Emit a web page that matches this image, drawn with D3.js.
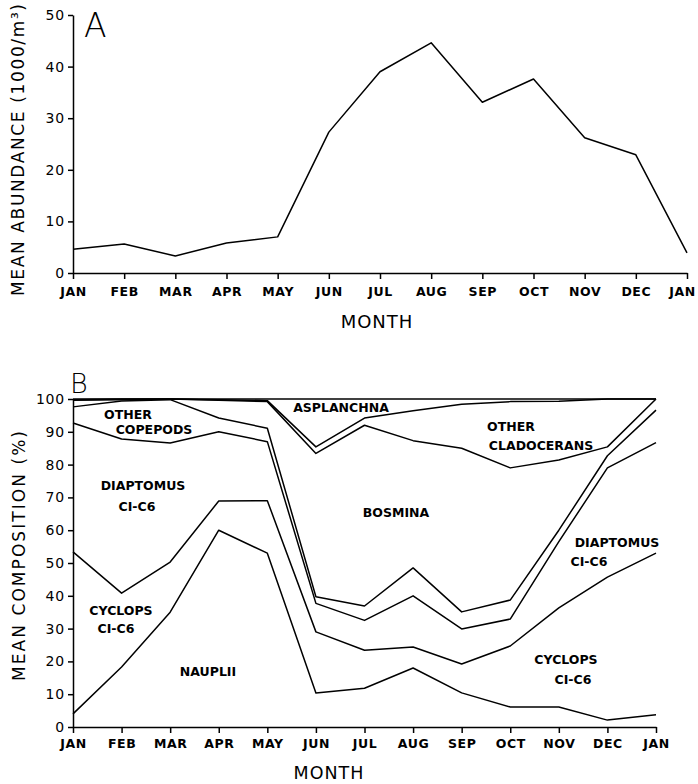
<!DOCTYPE html>
<html>
<head>
<meta charset="utf-8">
<script src="https://cdn.jsdelivr.net/npm/d3@7"></script>
<style>
  html, body { margin: 0; padding: 0; background: #fff; }
  svg { display: block; }
  text { font-family: "DejaVu Sans", sans-serif; fill: #000; }
  .axis path, .axis line { stroke: #000; stroke-width: 1.5; }
  .axis text { font-family: "DejaVu Sans", sans-serif; }
</style>
</head>
<body>
<script>
// Month labels (the year wraps round to a second January)
const months = ["JAN","FEB","MAR","APR","MAY","JUN","JUL","AUG","SEP","OCT","NOV","DEC","JAN"];

// Panel A: mean zooplankton abundance (1000 individuals per m³)
const abundance = [4.6, 5.6, 3.3, 5.8, 7.0, 27.3, 39.0, 44.6, 33.1, 37.6, 26.2, 22.9, 3.9];
const abundanceTicks = [0, 10, 20, 30, 40, 50];

// Panel B: mean composition (%) by group, stacked bottom to top
const nauplii          = [4.0, 18.3, 35.0, 60.0, 53.0, 10.4, 11.8, 18.0, 10.4, 6.1, 6.1, 2.1, 3.7];
const cyclops          = [49.4, 22.5, 15.3, 8.9, 16.0, 18.6, 11.6, 6.4, 8.8, 18.6, 30.2, 43.6, 49.3];
const diaptomus        = [39.3, 47.0, 36.3, 21.1, 18.0, 8.7, 9.1, 15.6, 10.7, 8.2, 20.2, 33.3, 33.7];
const otherCopepods    = [4.9, 11.6, 13.2, 4.2, 4.1, 2.0, 4.4, 8.5, 5.2, 5.8, 3.5, 3.7, 9.9];
const bosmina          = [2.0, 0.4, 0.2, 5.4, 8.1, 43.7, 55.1, 38.8, 49.9, 40.3, 21.4, 2.7, 3.4];
const otherCladocerans = [0.2, 0.2, 0.0, 0.2, 0.3, 2.0, 2.2, 9.1, 13.4, 20.2, 17.9, 14.6, 0.0];
const asplanchna       = [0.2, 0.0, 0.0, 0.2, 0.5, 14.6, 5.8, 3.6, 1.6, 0.8, 0.7, 0.0, 0.0];
const compositionTicks = [0, 10, 20, 30, 40, 50, 60, 70, 80, 90, 100];

const groupKeys = ["nauplii","cyclops","diaptomus","otherCopepods","bosmina","otherCladocerans","asplanchna"];
const groupValues = { nauplii, cyclops, diaptomus, otherCopepods, bosmina, otherCladocerans, asplanchna };

const W = 698, H = 784;
const svg = d3.select("body").append("svg").attr("width", W).attr("height", H);

function drawAxes(g, x, y, yTicks, labelY, lastShift) {
  const xa = g.append("g").attr("class", "axis")
    .attr("transform", `translate(0,${y(0)})`)
    .call(d3.axisBottom(x).tickValues(d3.range(months.length))
      .tickFormat(i => months[i]).tickSize(6).tickSizeOuter(0).tickPadding(5));
  xa.selectAll("text").attr("font-size", 12.5).attr("font-weight", "bold")
    .attr("letter-spacing", 0.6).attr("y", labelY).attr("dy", 0)
    .attr("x", (d, i) => (i === months.length - 1 ? lastShift : 0));

  const ya = g.append("g").attr("class", "axis")
    .attr("transform", `translate(${x(0)},0)`)
    .call(d3.axisLeft(y).tickValues(yTicks).tickSize(5).tickSizeOuter(0).tickPadding(3));
  ya.selectAll("text").attr("font-size", 14).attr("letter-spacing", 0.8);
}

// ---------- Panel A ----------
const xA = d3.scaleLinear().domain([0, 12]).range([73, 687]);
const yA = d3.scaleLinear().domain([0, 50]).range([273, 15]);
const gA = svg.append("g");
drawAxes(gA, xA, yA, abundanceTicks, 23, -5);

gA.append("path")
  .datum(abundance)
  .attr("fill", "none").attr("stroke", "#000").attr("stroke-width", 1.5)
  .attr("stroke-linejoin", "round")
  .attr("d", d3.line().x((d, i) => xA(i)).y(d => yA(d)));

gA.append("text").attr("x", 84).attr("y", 37)
  .attr("font-size", 33).attr("font-weight", 200).text("A");

gA.append("text")
  .attr("transform", "translate(24,150) rotate(-90)")
  .attr("text-anchor", "middle").attr("font-size", 17)
  .attr("textLength", 292).attr("lengthAdjust", "spacing")
  .text("MEAN ABUNDANCE (1000/m³)");

gA.append("text").attr("x", 377).attr("y", 328)
  .attr("text-anchor", "middle").attr("font-size", 18).attr("letter-spacing", 1)
  .text("MONTH");

// ---------- Panel B ----------
const xB = d3.scaleLinear().domain([0, 12]).range([73, 656]);
const yB = d3.scaleLinear().domain([0, 100]).range([727, 399]);
const gB = svg.append("g");
drawAxes(gB, xB, yB, compositionTicks, 21, 0);

const rows = months.map((m, i) => {
  const r = { i };
  groupKeys.forEach(k => { r[k] = groupValues[k][i]; });
  return r;
});
const layers = d3.stack().keys(groupKeys)(rows);

gB.selectAll("path.boundary")
  .data(layers)
  .join("path")
  .attr("class", "boundary")
  .attr("fill", "none").attr("stroke", "#000").attr("stroke-width", 1.5)
  .attr("stroke-linejoin", "round")
  .attr("d", layer => d3.line().x((d, i) => xB(i)).y(d => yB(d[1]))(layer));

gB.append("text").attr("x", 70).attr("y", 393)
  .attr("font-size", 27).attr("font-weight", 200).text("B");

gB.append("text")
  .attr("transform", "translate(25,556) rotate(-90)")
  .attr("text-anchor", "middle").attr("font-size", 17)
  .attr("textLength", 250).attr("lengthAdjust", "spacing")
  .text("MEAN COMPOSITION (%)");

gB.append("text").attr("x", 329).attr("y", 779)
  .attr("text-anchor", "middle").attr("font-size", 17.5).attr("letter-spacing", 1)
  .text("MONTH");

// Group names inside the stacked areas
const areaLabels = [
  { t: "OTHER", x: 128, y: 414 },
  { t: "COPEPODS", x: 154, y: 429 },
  { t: "ASPLANCHNA", x: 341, y: 407 },
  { t: "OTHER", x: 511, y: 426 },
  { t: "CLADOCERANS", x: 541, y: 445 },
  { t: "DIAPTOMUS", x: 143, y: 485 },
  { t: "CI-C6", x: 137, y: 506 },
  { t: "BOSMINA", x: 396, y: 512 },
  { t: "DIAPTOMUS", x: 617, y: 542 },
  { t: "CI-C6", x: 589, y: 561 },
  { t: "CYCLOPS", x: 121, y: 610 },
  { t: "CI-C6", x: 116, y: 628 },
  { t: "NAUPLII", x: 208, y: 671 },
  { t: "CYCLOPS", x: 566, y: 659 },
  { t: "CI-C6", x: 573, y: 679 }
];
gB.selectAll("text.area-label")
  .data(areaLabels)
  .join("text")
  .attr("class", "area-label")
  .attr("x", d => d.x).attr("y", d => d.y)
  .attr("dy", "0.36em")
  .attr("text-anchor", "middle")
  .attr("font-size", 12.5).attr("font-weight", "bold")
  .text(d => d.t);
</script>
</body>
</html>
